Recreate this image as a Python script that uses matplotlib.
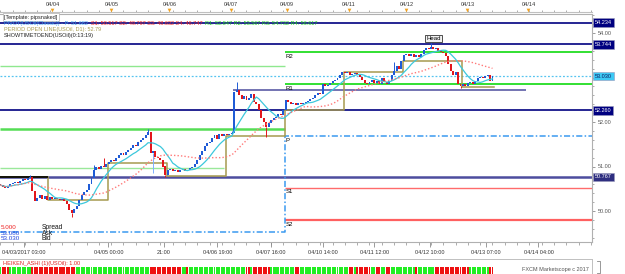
import numpy as np
import pandas as pd
import matplotlib
matplotlib.use("Agg")
import matplotlib.pyplot as plt
from matplotlib.ticker import MultipleLocator, FixedLocator, NullFormatter
from matplotlib.transforms import blended_transform_factory

plt.rcParams['font.family'] = ['Liberation Sans', 'DejaVu Sans']

# ---------------- data ----------------
first_open = 50.60
closes = [
    50.58, 50.55, 50.52, 50.56, 50.60,
    50.62, 50.66, 50.63, 50.68, 50.72, 50.70, 50.74,
    50.76,
    50.45, 50.22,
    50.30, 50.36, 50.28, 50.33, 50.25,
    50.32, 50.27, 50.30, 50.28, 50.25,
    50.28, 50.22, 50.15,
    50.02, 49.95,
    50.05, 50.12,
    50.25, 50.35,
    50.42, 50.48, 50.60,
    50.75, 50.93,
    51.00, 50.95,
    51.02, 50.98, 51.05,
    51.10, 51.15, 51.12, 51.20,
    51.25, 51.30, 51.26, 51.33, 51.38,
    51.42, 51.48, 51.45, 51.55, 51.60, 51.65, 51.70,
    51.78,
    51.30,
    51.35,
    51.22, 51.18, 51.15,
    51.00, 50.80,
    50.92, 50.95, 50.90, 50.93, 50.88, 50.92, 50.95, 50.90, 50.93, 50.96, 50.98,
    51.05, 51.15, 51.25, 51.35, 51.45, 51.52, 51.55,
    51.65, 51.70, 51.62, 51.72, 51.68, 51.74, 51.70, 51.72, 51.75,
    52.67,
    52.72,
    52.60, 52.52,
    52.58, 52.50, 52.55,
    52.62, 52.45, 52.40,
    52.28, 52.10, 52.00,
    51.88,
    51.97, 52.05,
    52.10, 52.12, 52.18, 52.15, 52.27,
    52.50,
    52.45, 52.40, 52.43, 52.38, 52.42, 52.40,
    52.42, 52.45, 52.48, 52.52, 52.55, 52.60, 52.65, 52.62,
    52.85, 52.80, 52.83, 52.88,
    52.92, 52.95, 53.00, 53.05, 53.12, 53.10,
    53.12, 53.05, 53.08,
    53.10, 53.06, 53.02,
    52.95, 52.88, 52.85, 52.90,
    52.95, 52.88, 52.92, 52.86, 52.98, 52.90, 52.85, 52.93,
    53.05, 53.15,
    53.25, 53.20, 53.37,
    53.50, 53.52,
    53.48, 53.52, 53.45, 53.50, 53.47,
    53.52,
    53.62, 53.66, 53.64, 53.68, 53.63, 53.66,
    53.60, 53.58, 53.55,
    53.48,
    53.30, 53.15, 53.05,
    53.12,
    52.85,
    52.80,
    52.86, 52.82, 52.88,
    52.90, 52.86, 52.92,
    52.98, 53.02, 52.99, 53.04, 53.05,
    52.92,
    53.03,
]
# notable wick extremes (candle index -> price)
wick_high = {12: 50.80, 38: 51.03, 42: 51.18, 60: 51.84, 94: 51.80, 96: 52.90,
             160: 53.35, 175: 53.78}
wick_low = {29: 49.87, 62: 50.85, 67: 50.76, 108: 51.66, 187: 52.76}

# horizontal levels
navy_levels = [54.234, 53.744, 52.260]
slate_level = 50.767
bid_level = 53.030
neck_level = 52.72
pivot_names = ["P", "S1", "S2", "S3", "S4", "R1", "R2", "R3", "R4"]
pivot_values = [51.682, 50.517, 49.797, 48.632, 46.747, 52.847, 53.567, 54.732, 56.617]
prev_green_levels = [53.26, 51.84, 50.97]
prev_pivot = 49.53

# period open line (daily opens)
day_bounds = [19.5, 43.5, 67.5, 91.5, 115.5, 139.5, 163.5, 187.5]
daily_open = [50.77, 50.25, 51.08, 50.79, 51.69, 52.27, 53.12, 53.37, 52.79]

box_levels = [54.234, 53.744, 53.030, 52.260, 50.767]
price_ticks = [50.0, 51.0, 52.0, 54.0]

time_labels = ["04/03/2017 03:00", "04/05 00:00", "21:00", "04/06 19:00", "04/07 16:00",
               "04/10 14:00", "04/11 12:00", "04/12 10:00", "04/13 07:00", "04/14 04:00"]
day_labels = ["04/04", "04/05", "04/06", "04/07", "04/09", "04/11", "04/12", "04/13", "04/14"]

spread, ask, bid = "5.000", "53.080", "53.030"

# ---------------- layout ----------------
W, H = 625, 274
PXC = 2.46                      # pixels per candle
X0 = -0.2
X1 = X0 + 592 / PXC
time_label_pos = [9.4, 43.9, 66.3, 88.2, 109.8, 130.9, 152.0, 174.4, 197.2, 218.7]
day_label_pos = [21.1, 45.1, 68.7, 93.5, 116.3, 141.5, 165.0, 189.8, 214.6]
Y_BOT = 50 - (242 - 211) / 44.5
Y_TOP = 54 + (33 - 14) / 44.5

fig = plt.figure(figsize=(W / 100, H / 100), dpi=100)
fig.patch.set_facecolor('white')

def fy(py):
    return 1 - py / H

FS = 4.0
GRAY = '#8a8a8a'

# ---------------- main axes ----------------
ax = fig.add_axes([0, fy(242), 592 / W, (242 - 14) / H])
ax.set_xlim(X0, X1)
ax.set_ylim(Y_BOT, Y_TOP)
ax.set_facecolor('white')
for s in ['left']:
    ax.spines[s].set_visible(False)
for s in ['top', 'bottom', 'right']:
    ax.spines[s].set_color('#b0b0b0')
    ax.spines[s].set_linewidth(0.8)

n = len(closes)
idx = np.arange(n)
c = np.array(closes)
o = np.concatenate([[first_open], c[:-1]])
up = c >= o
lo = np.minimum(o, c)
hi = np.maximum(o, c)
hgt = np.maximum(hi - lo, 0.022)

# level lines
for lv in navy_levels:
    ax.axhline(lv, color='#000080', lw=1.2, zorder=1)
ax.axhline(slate_level, color='#4d4d9e', lw=1.8, zorder=1)
ax.hlines(slate_level, X0, day_bounds[0], color='black', lw=1.2, zorder=1.1)
ax.axhline(bid_level, color='#55c4f0', lw=0.9, ls=(0, (1.5, 1.5)), zorder=1)
ax.hlines(neck_level, 94.7, 213.8, color='#4d4d9e', lw=1.1, zorder=1)

pv = dict(zip(pivot_names, pivot_values))
split = day_bounds[4]
ax.hlines([pv["R2"], pv["R1"]], split, X1, color='#22dd22', lw=1.3, zorder=1)
ax.hlines(prev_green_levels[0], X0, split, color='#8fe88f', lw=1.0, zorder=1)
ax.hlines(prev_green_levels[1], X0, split, color='#55dd55', lw=1.8, zorder=1)
ax.hlines(prev_green_levels[2], X0, day_bounds[3] - 0.5, color='#9ae89a', lw=1.0, zorder=1)
ax.hlines(pv["S1"], split, X1, color='#ff6b6b', lw=1.0, zorder=1)
ax.hlines(pv["S2"], split, X1, color='#ff6060', lw=1.6, zorder=1)
ax.plot([X0, split, split, X1], [prev_pivot, prev_pivot, pv["P"], pv["P"]],
        color='#3a9af0', lw=1.1, ls=(0, (4, 1.5, 1, 1.5)), zorder=1.2)
for name in ["R2", "R1", "P", "S1", "S2"]:
    ax.annotate(name, xy=(split, pv[name]), xytext=(1, -1.5), textcoords='offset pixels',
                ha='left', va='top', fontsize=4.3, color='black', zorder=6)

# period open line (step)
xs = [X0] + day_bounds + [n - 0.5]
sx, sy = [], []
for k, val in enumerate(daily_open):
    sx += [xs[k], xs[k + 1]]
    sy += [val, val]
ax.plot(sx, sy, color='#a69a50', lw=1.1, zorder=2)
ax.hlines(slate_level, X0, day_bounds[0], color='black', lw=1.2, zorder=2.1)

# candles
ax.bar(idx[up], hgt[up], bottom=lo[up], width=0.8, color='#1f5bd6', lw=0, zorder=3)
ax.bar(idx[~up], hgt[~up], bottom=lo[~up], width=0.8, color='#e3161c', lw=0, zorder=3)
for i, v in wick_high.items():
    ax.vlines(i, hi[i], v, color='#1f5bd6' if up[i] else '#e3161c', lw=0.7, zorder=3)
for i, v in wick_low.items():
    ax.vlines(i, v, lo[i], color='#7fb0ff' if up[i] else '#e3161c', lw=0.7, zorder=3)

# moving averages
s = pd.Series(closes)
ax.plot(idx, s.rolling(10, min_periods=1).mean(), color='#3cc8dc', lw=0.9, zorder=4)
ax.plot(idx, s.rolling(30, min_periods=1).mean(), color='#ff7a7a', lw=1.0,
        ls=(0, (1, 1.5)), zorder=4)

# right price axis
ax.yaxis.set_ticks_position('right')
ax.yaxis.set_major_locator(FixedLocator(price_ticks))
ax.yaxis.set_minor_locator(MultipleLocator(0.2))
ax.yaxis.set_major_formatter(plt.FuncFormatter(lambda v, p: f"{v:.2f}"))
ax.tick_params(axis='y', which='major', length=2.5, color=GRAY, labelsize=FS,
               labelcolor='#555555', pad=1.5, width=0.6)
ax.tick_params(axis='y', which='minor', length=1.5, color=GRAY, width=0.5)

tr_r = blended_transform_factory(ax.transAxes, ax.transData)
for lv in box_levels:
    is_bid = abs(lv - bid_level) < 1e-9
    ax.annotate(f"{lv:.3f}", xy=(1, lv), xycoords=tr_r, xytext=(3, 0),
                textcoords='offset pixels', ha='left', va='center', fontsize=FS,
                color='#0a1a60' if is_bid else 'white',
                bbox=dict(boxstyle='square,pad=0.3',
                          fc='#3cc8f4' if is_bid else ('#2e2e80' if lv == slate_level else '#000080'),
                          ec='#9999bb', lw=0.4),
                annotation_clip=False, zorder=10)

# bottom time axis
ax.xaxis.set_major_locator(FixedLocator(time_label_pos))
ax.set_xticklabels(time_labels)
ax.xaxis.set_minor_locator(MultipleLocator(5))
ax.tick_params(axis='x', which='major', length=3.5, color=GRAY, labelsize=FS,
               labelcolor='#333333', pad=2.5, width=0.6)
ax.tick_params(axis='x', which='minor', length=1.8, color=GRAY, width=0.5)

# ---------------- top date strip ----------------
axt = fig.add_axes([0, fy(12), 592 / W, 12 / H])
axt.set_xlim(X0, X1)
axt.set_ylim(12, 0)
for sname in ['left', 'right', 'top']:
    axt.spines[sname].set_visible(False)
axt.spines['bottom'].set_color('#c0c0c0')
axt.set_yticks([])
axt.xaxis.set_major_locator(MultipleLocator(5))
axt.xaxis.set_major_formatter(NullFormatter())
axt.tick_params(axis='x', direction='in', length=1.6, color=GRAY, width=0.5)
for lab, xp in zip(day_labels, day_label_pos):
    axt.text(xp, 4.0, lab, ha='center', va='center', fontsize=FS, color='#333333')
axt.scatter(day_label_pos, [10.2] * len(day_label_pos), marker='v', s=7,
            color='#f0a020', lw=0, zorder=5, clip_on=False)

# ---------------- Heiken Ashi strip ----------------
h_ = np.maximum(hi, [wick_high.get(i, -np.inf) for i in range(n)])
l_ = np.minimum(lo, [wick_low.get(i, np.inf) for i in range(n)])
ha_close = (o + h_ + l_ + c) / 4
ha_open = np.empty(n)
ha_open[0] = (o[0] + c[0]) / 2
for i in range(1, n):
    ha_open[i] = (ha_open[i - 1] + ha_close[i - 1]) / 2
ha_up = ha_close >= ha_open

axh = fig.add_axes([0, 0, 592 / W, 15 / H])
axh.set_xlim(X0, X1)
axh.set_ylim(15, 0)
axh.set_xticks([])
axh.set_yticks([])
for sname in ['left', 'bottom']:
    axh.spines[sname].set_visible(False)
for sname in ['top', 'right']:
    axh.spines[sname].set_color('#c0c0c0')
    axh.spines[sname].set_linewidth(0.7)
axh.bar(idx, 7.5, bottom=7.8, width=0.8, color=np.where(ha_up, '#22ee22', '#ee1111'), lw=0)
axh.text(1.2, 4.6, "HEIKEN_ASHI (1)(USOil): 1.00", ha='left', va='center',
         fontsize=FS, color='#dd2222')

# ---------------- overlay texts (pixel coords) ----------------
ov = fig.add_axes([0, 0, 1, 1])
ov.set_xlim(0, W)
ov.set_ylim(H, 0)
ov.axis('off')
ov.patch.set_visible(False)

ov.text(4, 17.3, "[Template: pipsnaked]", fontsize=FS, color='#222222', ha='left', va='center',
        bbox=dict(boxstyle='square,pad=0.25', fc='white', ec='#b0b0b0', lw=0.5))

p_txt = "PIVOT(USOil(Classic)) - P: %.3f" % pv["P"]
s_txt = " ".join(f"{nm}: {pv[nm]:.3f}" for nm in ["S1", "S2", "S3", "S4"])
r_txt = " ".join(f"{nm}: {pv[nm]:.3f}" for nm in ["R1", "R2", "R3", "R4"])
t1 = ov.text(4, 23.2, p_txt, fontsize=FS, color='#3a9af0', ha='left', va='center')
t2 = ov.annotate("  " + s_txt, xy=(1, 0.5), xycoords=t1, ha='left', va='center',
                 fontsize=FS, color='#ee2222')
ov.annotate("  " + r_txt, xy=(1, 0.5), xycoords=t2, ha='left', va='center',
            fontsize=FS, color='#22cc22')
ov.text(4, 29.3, "PERIOD OPEN LINE(USOil, D1): %.2f" % daily_open[-1], fontsize=FS,
        color='#a69a50', ha='left', va='center')
ov.text(4, 35.3, "SHOWTIMETOEND(USOil)(0:13:19)", fontsize=FS, color='#222222',
        ha='left', va='center')

ov.text(433.5, 38.5, "Head", fontsize=4.3, color='black', ha='center', va='center',
        bbox=dict(boxstyle='square,pad=0.25', fc='#f2f2f2', ec='#333333', lw=0.6))

ov.text(0.5, 227.5, spread, fontsize=4.5, color='#ee2222', ha='left', va='center')
ov.text(0.5, 233.3, ask, fontsize=4.5, color='#2244dd', ha='left', va='center')
ov.text(0.5, 239.0, bid, fontsize=4.5, color='#2244dd', ha='left', va='center')
ov.text(42, 227.5, "Spread", fontsize=4.8, color='#111111', ha='left', va='center')
ov.text(42, 233.3, "Ask", fontsize=4.8, color='#111111', ha='left', va='center')
ov.text(42, 239.0, "Bid", fontsize=4.8, color='#111111', ha='left', va='center')

ov.text(589, 270, "FXCM Marketscope c 2017", fontsize=FS, color='#555555',
        ha='right', va='center')
ov.plot([597, 600, 600, 597], [261, 261, 273, 273], color='#888888', lw=0.6)

fig.savefig("out.png", dpi=100, facecolor='white')
